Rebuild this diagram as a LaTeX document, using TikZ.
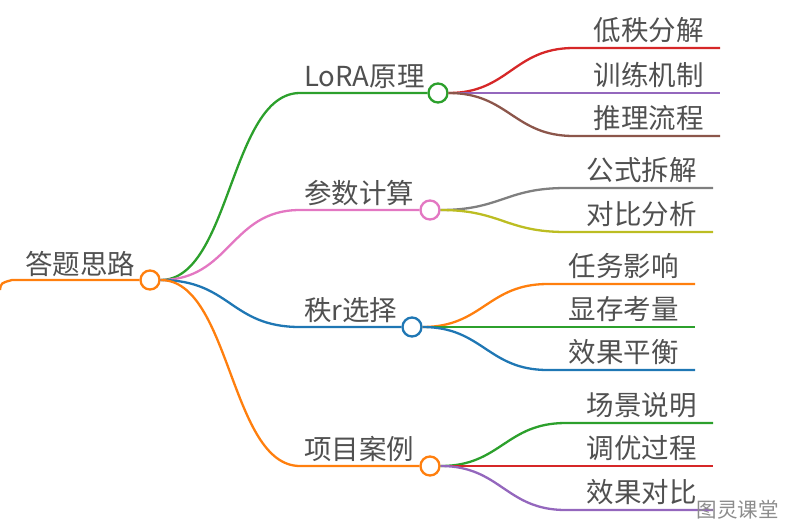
\documentclass[tikz,border=0pt]{standalone}
\usepackage{fontspec}
\newfontfamily\cjk{Noto Sans CJK SC}
\usetikzlibrary{positioning,calc}
\definecolor{cgreen}{HTML}{2CA02C}
\definecolor{cred}{HTML}{D62728}
\definecolor{cpurple}{HTML}{9467BD}
\definecolor{cbrown}{HTML}{8C564B}
\definecolor{cpink}{HTML}{E377C2}
\definecolor{cgray}{HTML}{7F7F7F}
\definecolor{colive}{HTML}{BCBD22}
\definecolor{cblue}{HTML}{1F77B4}
\definecolor{corange}{HTML}{FF7F0E}
\definecolor{txtgray}{HTML}{505050}

\begin{document}
\begin{tikzpicture}[x=1pt,y=-1pt,
    hub/.style={circle,draw=#1,line width=2.3pt,fill=white,minimum size=19pt,inner sep=0pt},
    lbl/.style={font=\cjk\fontsize{27.5}{30}\selectfont,text=txtgray,inner sep=0pt},
    edge/.style={line width=2.3pt,draw=#1}]
  \useasboundingbox (0,0) rectangle (789,528);
  % root
  \node[hub=corange] (root) at (150,280) {};
  \node[lbl,anchor=base west] (troot) at (25,274) {答题思路};
  \draw[edge=corange] (0,290) .. controls (1,283) .. (12,280) -- (root.west);
  % branches
  \node[hub=cgreen]  (lora) at (438,93)  {};
  \node[hub=cpink]   (calc) at (430,210) {};
  \node[hub=cblue]   (rank) at (412,327) {};
  \node[hub=corange] (case) at (430,466) {};
  \node[lbl,anchor=base west] (tlora) at (304,86)  {LoRA原理};
  \node[lbl,anchor=base west] (tcalc) at (304,203) {参数计算};
  \node[lbl,anchor=base west] (trank) at (304,320) {秩r选择};
  \node[lbl,anchor=base west] (tcase) at (304,459) {项目案例};
  \foreach \b/\c in {lora/cgreen,calc/cpink,rank/cblue,case/corange}
    \draw[edge=\c] (root.east) .. controls +(70,0) and +(-70,0) .. (300,0 |- \b) -- (\b.west);
  % leaves
  \foreach \p/\n/\y/\e/\c/\t in {
      lora/l1/48/720/cred/低秩分解, lora/l2/93/720/cpurple/训练机制, lora/l3/136/720/cbrown/推理流程,
      calc/c1/188/713/cgray/公式拆解, calc/c2/232/713/colive/对比分析,
      rank/r1/284/695/corange/任务影响, rank/r2/327/695/cgreen/显存考量, rank/r3/370/695/cblue/效果平衡,
      case/p1/423/713/cgreen/场景说明, case/p2/466/713/cred/调优过程, case/p3/510/713/cpurple/效果对比}
  {
    \coordinate (\n) at (\e,\y);
    \draw[edge=\c] (\p.east) .. controls +(60,0) and +(-60,0) .. ($(\p.east |- \n)+(125,0)$) -- (\n);
    \node[lbl,anchor=base east] (t\n) at ($(\n)+(-16,-8)$) {\t};
  }
  % watermark
  \node[font=\cjk\fontsize{20.5}{22}\selectfont,text=black!45,anchor=base east,inner sep=0pt] (mark) at (779,517) {图灵课堂};
\end{tikzpicture}
\end{document}
